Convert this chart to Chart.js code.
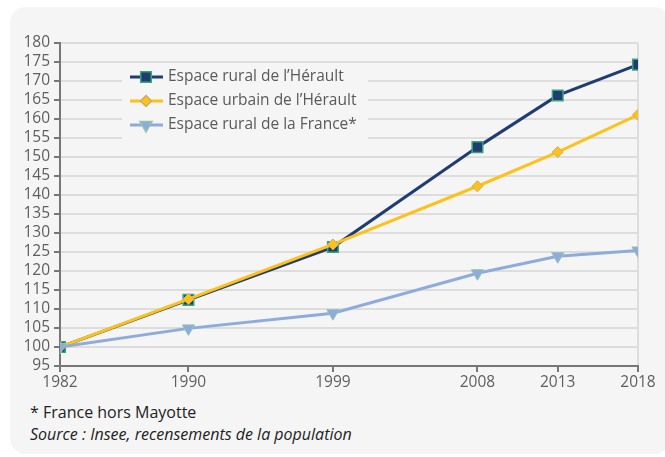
<!DOCTYPE html>
<html>
<head>
<meta charset="utf-8">
<script src="https://cdn.jsdelivr.net/npm/chart.js@4.4.0/dist/chart.umd.min.js"></script>
<style>
  html, body { margin: 0; padding: 0; background: #fff; }
  .card {
    position: absolute; left: 10px; top: 7px; width: 660px; height: 447px;
    background: #f5f5f5; border-radius: 16px;
  }
  .wrap { position: absolute; left: 0; top: 0; width: 665px; height: 400px; }
  .note {
    position: absolute; left: 30px; font-family: 'Open Sans', sans-serif;
    font-size: 16px; color: #222; white-space: nowrap; line-height: 20px;
  }
</style>
</head>
<body>
<div class="card"></div>
<div class="wrap"><canvas id="chart"></canvas></div>
<div class="note" style="top:402px">* France hors Mayotte</div>
<div class="note" style="top:424px;font-style:italic">Source : Insee, recensements de la population</div>
<script>
	const years = [ 1982, 1990, 1999, 2008, 2013, 2018 ];
	const ruralHerault = [ 100, 112.4, 126.3, 152.6, 166.2, 174.3 ];
	const urbainHerault = [ 100, 112.6, 127.0, 142.3, 151.3, 161.1 ];
	const ruralFrance = [ 100, 104.9, 108.9, 119.4, 123.9, 125.4 ];
	const labels = [ 'Espace rural de l’Hérault', 'Espace urbain de l’Hérault', 'Espace rural de la France*' ];

	const toPoints = ( vals ) => vals.map( ( v, i ) => ( { x: years[ i ], y: v } ) );

	const font = { family: "'Open Sans', sans-serif", size: 15.5 };

	// legend drawn inside the plot, on top of the grid
	const innerLegend = {
		id: 'innerLegend',
		beforeDatasetsDraw( chart ) {
			const c = chart.ctx;
			c.save();
			c.fillStyle = '#f5f5f5';
			c.fillRect( 122, 66, 246, 76 );
			chart.data.datasets.forEach( ( ds, i ) => {
				const y = 77 + i * 24;
				c.strokeStyle = ds.borderColor;
				c.lineWidth = 3;
				c.beginPath();
				c.moveTo( 130, y );
				c.lineTo( 163, y );
				c.stroke();
				c.fillStyle = ds.pointBackgroundColor;
				c.strokeStyle = ds.pointBorderColor;
				c.lineWidth = 1.5;
				Chart.helpers.drawPoint( c, {
					pointStyle: ds.pointStyle,
					rotation: ds.pointRotation || 0,
					radius: ds.pointRadius,
					borderWidth: 1.5,
				}, 146, y );
				c.fillStyle = '#5a5a5a';
				c.font = "15.5px 'Open Sans', sans-serif";
				c.textBaseline = 'middle';
				c.fillText( ds.label, 168, y );
			} );
			c.restore();
		},
	};

	new Chart( document.getElementById( 'chart' ), {
		type: 'line',
		plugins: [ innerLegend ],
		data: {
			datasets: [
				{
					label: labels[ 0 ],
					data: toPoints( ruralHerault ),
					borderColor: '#1f3d73',
					borderWidth: 3,
					pointStyle: 'rect',
					pointRadius: 7.5,
					pointBackgroundColor: '#1f3d73',
					pointBorderColor: '#3aa57a',
					pointBorderWidth: 1.5,
					order: 3,
				},
				{
					label: labels[ 1 ],
					data: toPoints( urbainHerault ),
					borderColor: '#fcc21b',
					borderWidth: 3,
					pointStyle: 'rectRot',
					pointRadius: 5.5,
					pointBackgroundColor: '#fcc21b',
					pointBorderColor: '#c9ad6a',
					pointBorderWidth: 1,
					order: 2,
				},
				{
					label: labels[ 2 ],
					data: toPoints( ruralFrance ),
					borderColor: '#8fabdc',
					borderWidth: 3,
					pointStyle: 'triangle',
					pointRotation: 180,
					pointRadius: 7,
					pointBackgroundColor: '#8fabdc',
					pointBorderColor: '#8fc4b0',
					pointBorderWidth: 1,
					order: 1,
				},
			],
		},
		options: {
			responsive: true,
			maintainAspectRatio: false,
			animation: false,
			layout: { padding: { left: 0, right: 27, top: 43, bottom: 0 } },
			plugins: {
				legend: { display: false },
				tooltip: { enabled: false },
			},
			scales: {
				x: {
					type: 'linear',
					min: 1982,
					max: 2018,
					afterBuildTicks: ( axis ) => {
						axis.ticks = years.map( ( v ) => ( { value: v } ) );
					},
					afterFit: ( axis ) => { axis.height = 34; },
					ticks: {
						callback: ( v ) => String( v ),
						color: '#5f5f5f',
						font: font,
						padding: 1,
						maxRotation: 0,
						autoSkip: false,
					},
					grid: {
						color: ( ctx ) => ( ctx.tick && ctx.tick.value === 2018 ? '#dddddd' : 'rgba(0,0,0,0)' ),
						lineWidth: 2,
						tickColor: '#777',
						tickLength: 6,
					},
					border: { color: '#777', width: 2 },
				},
				y: {
					min: 95,
					max: 180,
					afterFit: ( axis ) => { axis.width = 60; },
					ticks: {
						stepSize: 5,
						autoSkip: false,
						color: '#5f5f5f',
						font: font,
						padding: 4,
					},
					grid: {
						color: '#dddddd',
						lineWidth: 2,
						tickColor: '#777',
						tickLength: 6,
					},
					border: { color: '#777', width: 2 },
				},
			},
		},
	} );
</script>
</body>
</html>
